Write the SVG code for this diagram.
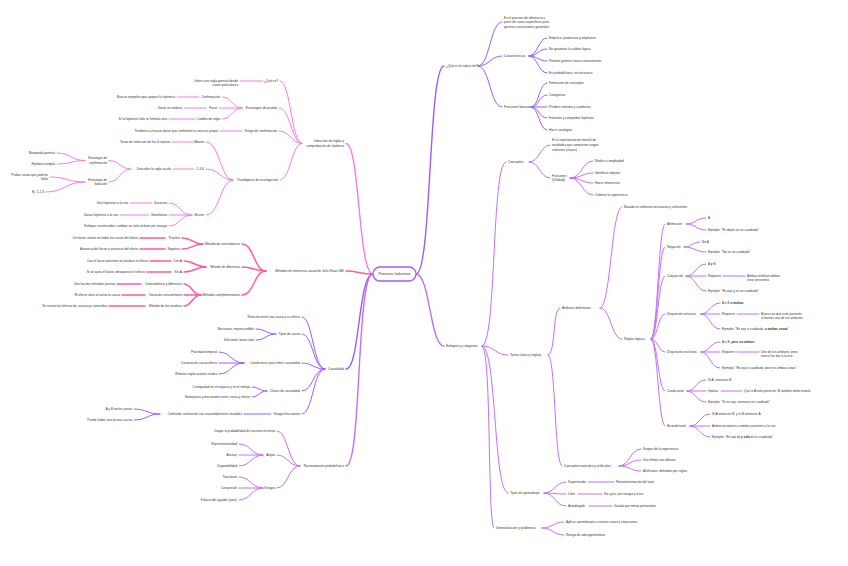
<svg xmlns="http://www.w3.org/2000/svg" width="848" height="566" viewBox="0 0 848 566">
<style>
text{font-family:"Liberation Sans",Arial,sans-serif;font-size:3.2px;fill:#333;dominant-baseline:middle}
.e{text-anchor:end}
.b{font-weight:bold}
path{fill:none;stroke-linecap:round}
.pa{stroke:#f57de6;stroke-width:1}
.pb{stroke:#ff5c9d;stroke-width:1.5}
.ua{stroke:#9d5cf7;stroke-width:1}
.ub{stroke:#c46ff6;stroke-width:1}
.k{stroke-width:1.4}
</style>
<rect width="848" height="566" fill="#fff"/>
<g id="connectors">
<path class="pa k" d="M373 274 C358 274 360 143.5 346 143.5"/>
<path class="pb k" d="M373 274 C360 274 358 271 346 271"/>
<path class="ua k" d="M373 274 C358 274 360 369 346 369"/>
<path class="ub k" d="M373 274 C356 274 362 466 346 466"/>
<path class="ua k" d="M416 274 C432 274 428 66 444 66"/>
<path class="ub k" d="M416 274 C430 274 430 346 444 346"/>
<!-- que es -->
<path class="ua" d="M478 66 C490 66 490 22 502 22"/>
<path class="ua" d="M478 66 C490 66 490 56 502 56"/>
<path class="ua" d="M478 66 C490 66 490 107 502 107"/>
<path class="ua" d="M529 56 C538 56 538 38 547 38"/>
<path class="ua" d="M529 56 C538 56 538 49 547 49"/>
<path class="ua" d="M529 56 C538 56 538 61 547 61"/>
<path class="ua" d="M529 56 C538 56 538 73 547 73"/>
<path class="ua" d="M531 107 C539 107 539 83 547 83"/>
<path class="ua" d="M531 107 C539 107 539 95 547 95"/>
<path class="ua" d="M531 107 L547 107"/>
<path class="ua" d="M531 107 C539 107 539 118 547 118"/>
<path class="ua" d="M531 107 C539 107 539 130 547 130"/>
<!-- enfoques -->
<path class="ub" d="M482 346 C497 346 491 162 506 162"/>
<path class="ub" d="M482 346 C495 346 495 355 508 355"/>
<path class="ub" d="M482 346 C497 346 493 493 508 493"/>
<path class="ub" d="M482 346 C492 346 487 528 494 528"/>
<path class="ub" d="M529 162 C540 162 540 145 550 145"/>
<path class="ub" d="M529 162 C540 162 540 178 550 178"/>
<path class="ub" d="M570 178 C582 178 582 161 593 161"/>
<path class="ub" d="M570 178 C582 178 582 173 593 173"/>
<path class="ub" d="M570 178 C582 178 582 183 593 183"/>
<path class="ub" d="M570 178 C582 178 582 195 593 195"/>
<path class="ub" d="M548 355 C556 355 552 308 560 308"/>
<path class="ub" d="M548 355 C556 355 554 466 562 466"/>
<path class="ub" d="M600 308 C611 308 611 207 622 207"/>
<path class="ub" d="M600 308 C611 308 611 339 622 339"/>
<path class="ub" d="M651 339 C658 339 658 224 665 224"/>
<path class="ub" d="M651 339 C658 339 658 247 665 247"/>
<path class="ub" d="M651 339 C658 339 658 276 665 276"/>
<path class="ub" d="M651 339 C658 339 658 314 665 314"/>
<path class="ub" d="M651 339 C658 339 658 352 665 352"/>
<path class="ub" d="M651 339 C658 339 658 391 665 391"/>
<path class="ub" d="M651 339 C658 339 658 426 665 426"/>
<path class="ub" d="M686 224 C696 224 696 218 706 218"/>
<path class="ub" d="M686 224 C696 224 696 230 706 230"/>
<path class="ub" d="M684 247 C692 247 692 242 700 242"/>
<path class="ub" d="M684 247 C695 247 695 252 706 252"/>
<path class="ub" d="M686 276 C696 276 696 264 706 264"/>
<path class="ub" d="M686 276 L706 276"/>
<path class="ub" d="M686 276 C696 276 696 291 706 291"/>
<path class="ub" d="M723 276 H745"/>
<path class="ub" d="M701 314 C710 314 710 303 720 303"/>
<path class="ub" d="M701 314 L720 314"/>
<path class="ub" d="M701 314 C710 314 710 329 720 329"/>
<path class="ub" d="M737 314 H759"/>
<path class="ub" d="M701 352 C710 352 710 342 720 342"/>
<path class="ub" d="M701 352 L720 352"/>
<path class="ub" d="M701 352 C710 352 710 368 720 368"/>
<path class="ub" d="M737 352 H759"/>
<path class="ub" d="M687 391 C696 391 696 380 706 380"/>
<path class="ub" d="M687 391 L706 391"/>
<path class="ub" d="M687 391 C696 391 696 402 706 402"/>
<path class="ub" d="M721 391 H742"/>
<path class="ub" d="M690 426 C700 426 700 414 710 414"/>
<path class="ub" d="M690 426 L710 426"/>
<path class="ub" d="M690 426 C700 426 700 437 710 437"/>
<path class="ub" d="M619 466 C630 466 630 449 641 449"/>
<path class="ub" d="M619 466 C630 466 630 460 641 460"/>
<path class="ub" d="M619 466 C630 466 630 471 641 471"/>
<path class="ub" d="M544 493 C555 493 555 482 566 482"/>
<path class="ub" d="M544 493 C555 493 555 494 566 494"/>
<path class="ub" d="M544 493 C555 493 555 506 566 506"/>
<path class="ub" d="M588 482 H614"/>
<path class="ub" d="M578 494 H602"/>
<path class="ub" d="M589 506 H612"/>
<path class="ub" d="M542 528 C553 528 553 522 564 522"/>
<path class="ub" d="M542 528 C553 528 553 535 564 535"/>
<!-- induccion -->
<path class="pa" d="M302 143.5 C291 143.5 291 81 280 81"/>
<path class="pa" d="M302 143.5 C291 143.5 291 108 279 108"/>
<path class="pa" d="M302 143.5 C291 143.5 291 131 279 131"/>
<path class="pa" d="M302 143.5 C291 143.5 291 180 280 180"/>
<path class="pa" d="M263 81 H240"/>
<path class="pa" d="M242 108 C232 108 232 97 222 97"/>
<path class="pa" d="M242 108 L219 108"/>
<path class="pa" d="M242 108 C232 108 232 119 222 119"/>
<path class="pa" d="M199 97 H177"/>
<path class="pa" d="M206 108 H184"/>
<path class="pa" d="M195 119 H169"/>
<path class="pa" d="M242 131 H220"/>
<path class="pa" d="M233 180 C220 180 220 142 206 142"/>
<path class="pa" d="M233 180 C220 180 220 169 206 169"/>
<path class="pa" d="M233 180 C220 180 220 215 206 215"/>
<path class="pa" d="M194 142 H172"/>
<path class="pa" d="M194 169 H173"/>
<path class="pa" d="M131 169 C120 169 120 160.5 109 160.5"/>
<path class="pa" d="M131 169 C120 169 120 182 109 182"/>
<path class="pa" d="M85 160.5 C71 160.5 71 153 57 153"/>
<path class="pa" d="M85 160.5 C71 160.5 71 164 57 164"/>
<path class="pa" d="M85 182 C67 182 67 177 50 177"/>
<path class="pa" d="M85 182 C65 182 65 192 46 192"/>
<path class="pa" d="M192 215 C180 215 180 203 169 203"/>
<path class="pa" d="M192 215 L169 215"/>
<path class="pa" d="M192 215 C180 215 180 226 169 226"/>
<path class="pa" d="M152 203 H130"/>
<path class="pa" d="M149 215 H120"/>
<!-- mill -->
<path class="pb" d="M266 271 C254 271 254 244 242 244"/>
<path class="pb" d="M266 271 C254 271 254 267 242 267"/>
<path class="pb" d="M266 271 C254 271 254 295 242 295"/>
<path class="pb" d="M203 244 C193 244 193 238 182 238"/>
<path class="pb" d="M203 244 C193 244 193 249 182 249"/>
<path class="pb" d="M165 238 H140"/>
<path class="pb" d="M165 249 H140"/>
<path class="pb" d="M206 267 C195 267 195 261 184 261"/>
<path class="pb" d="M206 267 C195 267 195 272 184 272"/>
<path class="pb" d="M171 261 H150"/>
<path class="pb" d="M171 272 H147"/>
<path class="pb" d="M201 295 C192 295 192 284 184 284"/>
<path class="pb" d="M201 295 L184 295"/>
<path class="pb" d="M201 295 C192 295 192 306 184 306"/>
<path class="pb" d="M141 284 H117"/>
<path class="pb" d="M145 295 H122"/>
<path class="pb" d="M145 306 H109"/>
<!-- causalidad -->
<path class="ua" d="M325 369 C313 369 313 317 302 317"/>
<path class="ua" d="M325 369 C313 369 313 334 302 334"/>
<path class="ua" d="M325 369 C313 369 313 363 302 363"/>
<path class="ua" d="M325 369 C313 369 313 391 302 391"/>
<path class="ua" d="M325 369 C313 369 313 414 302 414"/>
<path class="ua" d="M276 334 C266 334 266 329 256 329"/>
<path class="ua" d="M276 334 C266 334 266 340 256 340"/>
<path class="ua" d="M244 363 C231 363 231 352 219 352"/>
<path class="ua" d="M244 363 L219 363"/>
<path class="ua" d="M244 363 C231 363 231 374 219 374"/>
<path class="ua" d="M267 391 C259 391 259 387 252 387"/>
<path class="ua" d="M267 391 C259 391 259 397 252 397"/>
<path class="ua" d="M271 414 H244"/>
<path class="ua" d="M160 414 C147 414 147 409 134 409"/>
<path class="ua" d="M160 414 C147 414 147 420 134 420"/>
<!-- razonamiento -->
<path class="ub" d="M300 466 C288 466 288 431 277 431"/>
<path class="ub" d="M300 466 C288 466 288 455 277 455"/>
<path class="ub" d="M300 466 C288 466 288 488 277 488"/>
<path class="ub" d="M263 455 C251 455 251 444 239 444"/>
<path class="ub" d="M263 455 L239 455"/>
<path class="ub" d="M263 455 C251 455 251 466 239 466"/>
<path class="ub" d="M263 488 C251 488 251 477 239 477"/>
<path class="ub" d="M263 488 L239 488"/>
<path class="ub" d="M263 488 C251 488 251 500 239 500"/>
</g>
<g id="center"><rect x="373" y="267" width="43" height="14" rx="7" fill="#fff" stroke="#9d5cf7" stroke-width="1.3"/><text x="394.5" y="274" text-anchor="middle" style="font-size:3.6px">Procesos Inductivos</text></g>
<g id="que-es"><text x="446" y="66">¿Qué es la inducción?</text></g>
<g id="definicion"><text x="504" y="18">Es el proceso de inferencia a</text><text x="504" y="22.5">partir de casos específicos para</text><text x="504" y="27">generar conclusiones generales</text></g>
<g id="caracteristicas"><text x="504" y="56">Características</text></g>
<g id="car1"><text x="549" y="38">Empírico, productivo y ampliativo</text></g>
<g id="car2"><text x="549" y="49">No garantiza la validez lógica</text></g>
<g id="car3"><text x="549" y="61">Permite generar nuevo conocimiento</text></g>
<g id="car4"><text x="549" y="73">Es probabilística, no necesaria</text></g>
<g id="funciones"><text x="504" y="107">Funciones básicas</text></g>
<g id="fun1"><text x="549" y="83">Formación de conceptos</text></g>
<g id="fun2"><text x="549" y="95">Categorizar</text></g>
<g id="fun3"><text x="549" y="107">Predecir eventos y conductas</text></g>
<g id="fun4"><text x="549" y="118">Formular y comprobar hipótesis</text></g>
<g id="fun5"><text x="549" y="130">Hacer analogías</text></g>
<g id="enfoques"><text x="446" y="346">Enfoques y categorías</text></g>
<g id="conceptos"><text x="508" y="162">Conceptos</text></g>
<g id="con-def"><text x="552" y="140">Es la representación mental de</text><text x="552" y="145">entidades que comparten rasgos</text><text x="552" y="150">comunes (clases)</text></g>
<g id="con-fun"><text x="552" y="176">Funciones</text><text x="552" y="180.5">(Utilidad)</text></g>
<g id="cf1"><text x="595" y="161">Reducir complejidad</text></g>
<g id="cf2"><text x="595" y="173">Identificar objetos</text></g>
<g id="cf3"><text x="595" y="183">Hacer inferencias</text></g>
<g id="cf4"><text x="595" y="195">Ordenar la experiencia</text></g>
<g id="teoria-clasica"><text x="510" y="355">Teoría clásica (reglas)</text></g>
<g id="atributos"><text x="562" y="308">Atributos definitorios</text></g>
<g id="basada"><text x="624" y="207">Basada en atributos necesarios y suficientes</text></g>
<g id="reglas"><text x="624" y="339">Reglas lógicas</text></g>
<g id="afirmacion"><text x="667" y="224">Afirmación</text><text x="708" y="218">A</text><text x="708" y="230">Ejemplo: "El objeto es un cuadrado"</text></g>
<g id="negacion"><text x="667" y="247">Negación</text><text x="702" y="242">No A</text><text x="708" y="252">Ejemplo: "No es un cuadrado"</text></g>
<g id="conjuncion"><text x="667" y="276">Conjunción</text><text x="708" y="264">A <tspan class="b">y</tspan> B</text><text x="708" y="276">Requiere</text><text x="747" y="276">Ambos atributos deben</text><text x="747" y="280.5">estar presentes</text><text x="708" y="291">Ejemplo: "Es rojo y es un cuadrado"</text></g>
<g id="disy-inclusiva"><text x="667" y="314">Disyunción inclusiva</text><text x="722" y="303">A o B <tspan class="b">o ambos</tspan></text><text x="722" y="314">Requiere</text><text x="761" y="314">Basta con que esté presente</text><text x="761" y="318.5">al menos uno de los atributos</text><text x="722" y="329">Ejemplo: "Es rojo o cuadrado, <tspan class="b">o ambas cosas</tspan>"</text></g>
<g id="disy-exclusiva"><text x="667" y="352">Disyunción exclusiva</text><text x="722" y="342">A o B, <tspan class="b">pero no ambos</tspan></text><text x="722" y="352">Requiere</text><text x="761" y="352">Uno de los atributos, pero</text><text x="761" y="356.5">nunca los dos a la vez</text><text x="722" y="368">Ejemplo: "Es rojo o cuadrado, pero no ambas cosas"</text></g>
<g id="condicional"><text x="667" y="391">Condicional</text><text x="708" y="380">Si A, entonces B</text><text x="708" y="391">Implica</text><text x="744" y="391">Que si A está presente, B también debe estarlo</text><text x="708" y="402">Ejemplo: "Si es rojo, entonces es cuadrado"</text></g>
<g id="bicondicional"><text x="667" y="426">Bicondicional</text><text x="712" y="414">Si A entonces B, y si B entonces A</text><text x="712" y="426">Ambos presentes o ambos ausentes a la vez</text><text x="712" y="437">Ejemplo: "Es rojo <tspan class="b">si y sólo si</tspan> es cuadrado"</text></g>
<g id="naturales"><text x="564" y="466">Conceptos naturales y artificiales</text><text x="643" y="449">Surgen de la experiencia</text><text x="643" y="460">Sus límites son difusos</text><text x="643" y="471">Artificiales: definidos por reglas</text></g>
<g id="aprendizaje"><text x="510" y="493">Tipos de aprendizaje</text><text x="568" y="482">Supervisado</text><text x="616" y="482">Retroalimentación del tutor</text><text x="568" y="494">Libre</text><text x="604" y="494">Sin guía: por ensayo y error</text><text x="568" y="506">Autodirigido</text><text x="614" y="506">Guiado por metas personales</text></g>
<g id="generalizacion"><text x="496" y="528">Generalización y problemas</text><text x="566" y="522">Aplicar aprendizajes a nuevos casos y situaciones</text><text x="566" y="535">Riesgo de sobregeneralizar</text></g>
<g id="induccion"><text class="e" x="344" y="141">Inducción de reglas y</text><text class="e" x="344" y="146">comprobación de hipótesis</text></g>
<g id="ind-que"><text class="e" x="278" y="81">¿Qué es?</text><text class="e" x="238" y="80.8">Inferir una regla general desde</text><text class="e" x="238" y="85.2">casos particulares</text></g>
<g id="estrategias"><text class="e" x="277" y="108">Estrategias de prueba</text><text class="e" x="220" y="97">Confirmación</text><text class="e" x="175" y="97">Buscar ejemplos que apoyen la hipótesis</text><text class="e" x="217" y="108">Focal</text><text class="e" x="182" y="108">Variar un atributo</text><text class="e" x="220" y="119">Cambio de regla</text><text class="e" x="167" y="119">Si la hipótesis falla se formula otra</text></g>
<g id="sesgo"><text class="e" x="277" y="131">Sesgo de confirmación</text><text class="e" x="218" y="131">Tendencia a buscar datos que confirmen la creencia propia</text></g>
<g id="paradigmas"><text class="e" x="278" y="180">Paradigmas de investigación</text><text class="e" x="204" y="142">Wason</text><text class="e" x="170" y="142">Tarea de selección de las 4 tarjetas</text><text class="e" x="204" y="169">2-4-6</text><text class="e" x="171" y="169">Descubrir la regla oculta</text><text class="e" x="107" y="158.3">Estrategia de</text><text class="e" x="107" y="162.8">confirmación</text><text class="e" x="55" y="153">Búsqueda positiva</text><text class="e" x="55" y="164">Hipótesis amplia</text><text class="e" x="107" y="180">Estrategia de</text><text class="e" x="107" y="184.5">falsación</text><text class="e" x="48" y="175">Probar casos que podrían</text><text class="e" x="48" y="179.5">fallar</text><text class="e" x="44" y="192">Ej. 1-2-3</text></g>
<g id="bruner"><text class="e" x="204" y="215">Bruner</text><text class="e" x="167" y="203">Sucesiva</text><text class="e" x="128" y="203">Una hipótesis a la vez</text><text class="e" x="167" y="215">Simultánea</text><text class="e" x="118" y="215">Varias hipótesis a la vez</text><text class="e" x="167" y="226">Enfoque conservador: cambiar un solo atributo por ensayo</text></g>
<g id="mill"><text class="e" x="344" y="271">Métodos de inferencia causal de John Stuart Mill</text></g>
<g id="concordancia"><text class="e" x="240" y="244">Método de concordancia</text><text class="e" x="180" y="238">Positivo</text><text class="e" x="138" y="238">Un factor común en todos los casos del efecto</text><text class="e" x="180" y="249">Negativo</text><text class="e" x="138" y="249">Ausencia del factor y ausencia del efecto</text></g>
<g id="diferencia"><text class="e" x="240" y="267">Método de diferencia</text><text class="e" x="182" y="261">Con A</text><text class="e" x="148" y="261">Con el factor presente se produce el efecto</text><text class="e" x="182" y="272">Sin A</text><text class="e" x="145" y="272">Si se quita el factor, desaparece el efecto</text></g>
<g id="complementarios"><text class="e" x="240" y="295">Métodos complementarios</text><text class="e" x="182" y="284">Concordancia y diferencia</text><text class="e" x="115" y="284">Une los dos métodos previos</text><text class="e" x="182" y="295">Variación concomitante</text><text class="e" x="120" y="295">El efecto varía al variar la causa</text><text class="e" x="182" y="306">Método de los residuos</text><text class="e" x="107" y="306">Se restan los efectos de causas ya conocidas</text></g>
<g id="causalidad"><text class="e" x="344" y="369">Causalidad</text><text class="e" x="300" y="317">Relación entre una causa y su efecto</text></g>
<g id="tipos-causa"><text class="e" x="300" y="334">Tipos de causa</text><text class="e" x="254" y="329">Necesaria: imprescindible</text><text class="e" x="254" y="340">Suficiente: basta sola</text></g>
<g id="condiciones"><text class="e" x="300" y="363">Condiciones para inferir causalidad</text><text class="e" x="217" y="352">Prioridad temporal</text><text class="e" x="217" y="363">Covariación causa-efecto</text><text class="e" x="217" y="374">Eliminar explicaciones rivales</text></g>
<g id="claves"><text class="e" x="300" y="391">Claves de causalidad</text><text class="e" x="250" y="387">Contigüidad en el espacio y en el tiempo</text><text class="e" x="250" y="397">Semejanza y mecanismo entre causa y efecto</text></g>
<g id="sesgos-causa"><text class="e" x="300" y="414">Sesgos frecuentes</text><text class="e" x="242" y="414">Confundir correlación con causalidad entre variables</text><text class="e" x="132" y="409">A y B varían juntas</text><text class="e" x="132" y="420">Puede haber una tercera causa</text></g>
<g id="razonamiento"><text class="e" x="344" y="466">Razonamiento probabilístico</text><text class="e" x="275" y="431">Juzgar la probabilidad de sucesos inciertos</text></g>
<g id="atajos"><text class="e" x="275" y="455">Atajos</text><text class="e" x="237" y="444">Representatividad</text><text class="e" x="237" y="455">Anclaje</text><text class="e" x="237" y="466">Disponibilidad</text></g>
<g id="sesgos-prob"><text class="e" x="275" y="488">Sesgos</text><text class="e" x="237" y="477">Tasa base</text><text class="e" x="237" y="488">Conjunción</text><text class="e" x="237" y="500">Falacia del jugador (azar)</text></g>
</svg>
